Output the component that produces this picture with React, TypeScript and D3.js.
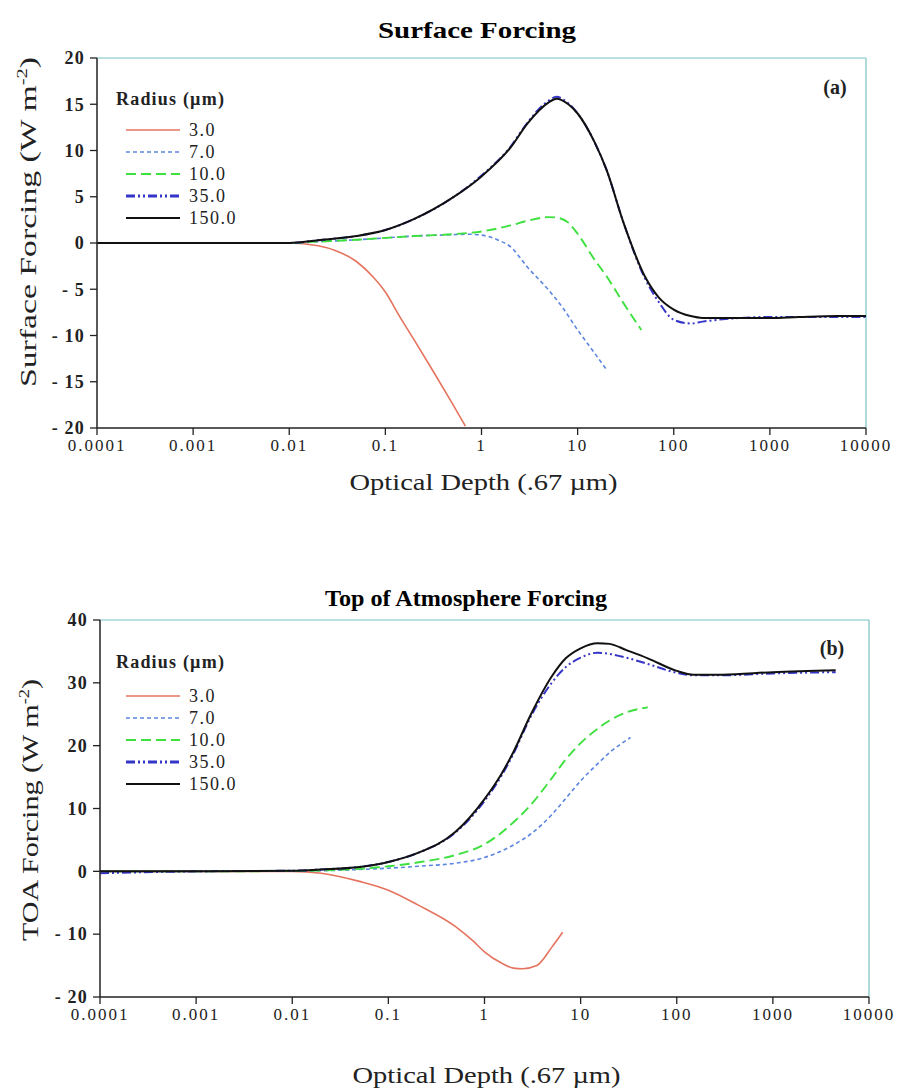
import React from 'react';
import * as d3 from 'd3';

// ---------- shared labels ----------
const xTickValues = [1e-4, 1e-3, 1e-2, 1e-1, 1, 10, 100, 1000, 10000];
const xTickLabels = ['0.0001', '0.001', '0.01', '0.1', '1', '10', '100', '1000', '10000'];
const radiusLabels = ['3.0', '7.0', '10.0', '35.0', '150.0'];
const surfaceTicks = [20, 15, 10, 5, 0, -5, -10, -15, -20];
const toaTicks = [40, 30, 20, 10, 0, -10, -20];

// ---------- (a) Surface forcing ----------
const sfcTau3 = [1e-4, 1e-3, 0.01, 0.02, 0.03, 0.05, 0.075, 0.1, 0.14, 0.2, 0.32, 0.5, 0.68];
const sfcVal3 = [0, 0, 0, -0.3, -0.8, -2.0, -3.7, -5.3, -7.9, -10.5, -14.0, -17.4, -19.8];
const sfcTau7 = [1e-4, 1e-3, 0.01, 0.02, 0.05, 0.1, 0.2, 0.5, 0.7, 1, 1.5, 2, 3, 5, 7, 10, 15, 20];
const sfcVal7 = [0, 0, 0, 0.15, 0.35, 0.55, 0.75, 0.9, 0.95, 0.85, 0.3, -0.4, -2.6, -5.1, -7.0, -9.4, -11.9, -13.7];
const sfcTau10 = [1e-4, 1e-3, 0.01, 0.02, 0.05, 0.1, 0.2, 0.5, 1, 2, 3, 5, 6, 8, 10, 15, 20, 30, 46];
const sfcVal10 = [0, 0, 0, 0.15, 0.35, 0.55, 0.75, 0.95, 1.25, 1.9, 2.4, 2.8, 2.75, 2.2, 1.0, -1.8, -3.6, -6.5, -9.4];
const sfcTauBig = [1e-4, 1e-3, 0.01, 0.02, 0.05, 0.1, 0.2, 0.5, 1, 2, 3, 5, 6, 8, 10, 15, 20, 30, 50, 70, 100, 150, 200, 500, 1000, 2000, 5000, 10000];
const sfcVal35 = [0, 0, 0, 0.3, 0.75, 1.4, 2.6, 4.9, 7.3, 10.4, 13.0, 15.4, 15.8, 15.1, 14.0, 10.9, 7.9, 2.2, -3.8, -6.4, -8.3, -8.7, -8.5, -8.1, -8.0, -8.0, -8.0, -8.0];
const sfcVal150 = [0, 0, 0, 0.3, 0.75, 1.4, 2.6, 4.9, 7.2, 10.3, 12.9, 15.2, 15.6, 15.0, 14.0, 10.9, 7.9, 2.2, -3.6, -5.9, -7.2, -7.9, -8.1, -8.1, -8.1, -8.0, -7.9, -7.9];

// ---------- (b) TOA forcing ----------
const toaTau3 = [1e-4, 1e-3, 0.01, 0.02, 0.05, 0.1, 0.2, 0.5, 0.75, 1, 1.5, 2, 2.5, 3.5, 5, 6.5];
const toaVal3 = [0, 0, 0, -0.3, -1.6, -3.0, -5.3, -8.8, -11.0, -12.8, -14.6, -15.4, -15.5, -15.0, -12.1, -9.7];
const toaTau7 = [1e-4, 1e-3, 0.01, 0.02, 0.05, 0.1, 0.2, 0.5, 1, 2, 3, 5, 7, 10, 15, 20, 33];
const toaVal7 = [0, 0, 0.05, 0.1, 0.3, 0.5, 0.8, 1.3, 2.2, 4.2, 5.9, 9.0, 11.6, 14.4, 17.1, 18.9, 21.3];
const toaTau10 = [1e-4, 1e-3, 0.01, 0.02, 0.05, 0.1, 0.2, 0.5, 1, 2, 3, 5, 7, 10, 15, 20, 30, 50];
const toaVal10 = [0, 0, 0.05, 0.15, 0.4, 0.8, 1.4, 2.6, 4.3, 7.8, 10.5, 14.8, 17.8, 20.4, 22.7, 24.0, 25.3, 26.1];
const toaTauBig = [1e-4, 1e-3, 0.01, 0.02, 0.05, 0.1, 0.2, 0.5, 1, 1.5, 2, 3, 5, 7, 10, 15, 20, 30, 50, 100, 150, 300, 1000, 4500];
const toaVal35 = [-0.3, 0, 0.1, 0.3, 0.7, 1.5, 2.9, 6.2, 11.2, 15.2, 18.7, 24.5, 30.0, 32.5, 34.0, 34.8, 34.6, 34.0, 33.0, 31.6, 31.2, 31.2, 31.5, 31.7];
const toaVal150 = [0, 0, 0.1, 0.3, 0.7, 1.5, 2.9, 6.3, 11.5, 15.5, 19.0, 24.8, 31.0, 33.9, 35.5, 36.3, 36.2, 35.2, 33.9, 31.9, 31.3, 31.3, 31.7, 32.0];

const styles = [
  { color: '#e5735f', dash: undefined, width: 1.6 },
  { color: '#5c86e0', dash: '4,3', width: 1.6 },
  { color: '#3ee03e', dash: '10,5', width: 1.9 },
  { color: '#3535c8', dash: '9,3,2,3,2,3', width: 2 },
  { color: '#111111', dash: undefined, width: 2 },
];

const zip = (t: number[], v: number[]) => t.map((d, i) => [d, v[i]] as [number, number]);

const sfcSeries = [
  zip(sfcTau3, sfcVal3),
  zip(sfcTau7, sfcVal7),
  zip(sfcTau10, sfcVal10),
  zip(sfcTauBig, sfcVal35),
  zip(sfcTauBig, sfcVal150),
];
const toaSeries = [
  zip(toaTau3, toaVal3),
  zip(toaTau7, toaVal7),
  zip(toaTau10, toaVal10),
  zip(toaTauBig, toaVal35),
  zip(toaTauBig, toaVal150),
];

const FONT = '"Liberation Serif", "Times New Roman", serif';

type PanelProps = {
  box: { left: number; right: number; top: number; bottom: number };
  yTicks: number[];
  series: [number, number][][];
  title: string;
  titleX: number;
  titleY: number;
  titleLen: number;
  yTitle: string;
  yTitleX: number;
  yTitleY: number;
  yTitleLen: number;
  xTitleY: number;
  letter: string;
  letterX: number;
  letterY: number;
  legendHeaderY: number;
  legendFirstY: number;
};

function Panel(p: PanelProps) {
  const { box } = p;
  const x = d3.scaleLog().domain([1e-4, 1e4]).range([box.left, box.right]);
  const y = d3
    .scaleLinear()
    .domain([d3.min(p.yTicks) as number, d3.max(p.yTicks) as number])
    .range([box.bottom, box.top]);
  const line = d3
    .line<[number, number]>()
    .x((d) => x(d[0]))
    .y((d) => y(d[1]))
    .curve(d3.curveMonotoneX);
  return (
    <g>
      <text
        x={p.titleX}
        y={p.titleY}
        textAnchor="middle"
        fontFamily={FONT}
        fontWeight="bold"
        fontSize={24}
        textLength={p.titleLen}
        lengthAdjust="spacingAndGlyphs"
      >
        {p.title}
      </text>
      {/* frame top/right */}
      <line x1={box.left} x2={box.right} y1={box.top} y2={box.top} stroke="#78c2c4" strokeWidth={1.2} />
      <line x1={box.right} x2={box.right} y1={box.top} y2={box.bottom} stroke="#78c2c4" strokeWidth={1.2} />
      {/* series */}
      {p.series.map((s, i) => (
        <path
          key={i}
          d={line(s) || ''}
          fill="none"
          stroke={styles[i].color}
          strokeWidth={styles[i].width}
          strokeDasharray={styles[i].dash}
        />
      ))}
      {/* axes */}
      <line x1={box.left} x2={box.left} y1={box.top} y2={box.bottom} stroke="#222" strokeWidth={1.5} />
      <line x1={box.left} x2={box.right} y1={box.bottom} y2={box.bottom} stroke="#222" strokeWidth={1.5} />
      {p.yTicks.map((t) => (
        <g key={'y' + t}>
          <line x1={box.left - 7} x2={box.left} y1={y(t)} y2={y(t)} stroke="#222" strokeWidth={1.3} />
          <text
            x={box.left - 12}
            y={y(t)}
            dy="0.35em"
            textAnchor="end"
            fontFamily={FONT}
            fontWeight="bold"
            fontSize={18}
            letterSpacing={1.2}
            fill="#222"
          >
            {t < 0 ? '- ' + Math.abs(t) : String(t)}
          </text>
        </g>
      ))}
      {xTickValues.map((t, i) => (
        <g key={'x' + i}>
          <line x1={x(t)} x2={x(t)} y1={box.bottom} y2={box.bottom + 7} stroke="#222" strokeWidth={1.3} />
          <text
            x={x(t)}
            y={box.bottom + 23}
            textAnchor="middle"
            fontFamily={FONT}
            fontSize={17}
            letterSpacing={2}
            fill="#222"
          >
            {xTickLabels[i]}
          </text>
        </g>
      ))}
      {/* x title */}
      <text
        x={(box.left + box.right) / 2 + 2}
        y={p.xTitleY}
        textAnchor="middle"
        fontFamily={FONT}
        fontSize={23}
        textLength={268}
        lengthAdjust="spacingAndGlyphs"
        fill="#222"
      >
        Optical Depth (.67 µm)
      </text>
      {/* y title */}
      <text
        transform={`translate(${p.yTitleX},${p.yTitleY}) rotate(-90)`}
        textAnchor="middle"
        fontFamily={FONT}
        fontSize={23}
        textLength={p.yTitleLen}
        lengthAdjust="spacingAndGlyphs"
        fill="#222"
      >
        {p.yTitle} (W m<tspan dy={-9} fontSize={14}>-2</tspan>
        <tspan dy={9}>)</tspan>
      </text>
      {/* panel letter */}
      <text x={p.letterX} y={p.letterY} fontFamily={FONT} fontWeight="bold" fontSize={20} textAnchor="middle" fill="#222">
        {p.letter}
      </text>
      {/* legend */}
      <text x={116} y={p.legendHeaderY} fontFamily={FONT} fontWeight="bold" fontSize={18} letterSpacing={1.2} fill="#222">
        Radius (µm)
      </text>
      {radiusLabels.map((r, i) => {
        const ly = p.legendFirstY + i * 22;
        return (
          <g key={r}>
            <line
              x1={126}
              x2={180}
              y1={ly}
              y2={ly}
              stroke={styles[i].color}
              strokeWidth={styles[i].width + (i === 3 ? 1 : 0)}
              strokeDasharray={styles[i].dash}
            />
            <text x={189} y={ly} dy="0.35em" fontFamily={FONT} fontSize={18} letterSpacing={1.5} fill="#222">
              {r}
            </text>
          </g>
        );
      })}
    </g>
  );
}

export default function App() {
  return (
    <svg
      width={904}
      height={1091}
      style={{ position: 'absolute', left: 0, top: 0, background: '#fff' }}
    >
      <rect width={904} height={1091} fill="#fff" />
      <Panel
        box={{ left: 97, right: 866, top: 58, bottom: 428 }}
        yTicks={surfaceTicks}
        series={sfcSeries}
        title="Surface Forcing"
        titleX={477}
        titleY={38}
        titleLen={198}
        yTitle="Surface Forcing"
        yTitleX={36}
        yTitleY={222}
        yTitleLen={330}
        xTitleY={490}
        letter="(a)"
        letterX={835}
        letterY={94}
        legendHeaderY={105}
        legendFirstY={130}
      />
      <Panel
        box={{ left: 100, right: 869, top: 620, bottom: 997 }}
        yTicks={toaTicks}
        series={toaSeries}
        title="Top of Atmosphere Forcing"
        titleX={466}
        titleY={606}
        titleLen={282}
        yTitle="TOA Forcing"
        yTitleX={38}
        yTitleY={810}
        yTitleLen={262}
        xTitleY={1083}
        letter="(b)"
        letterX={832}
        letterY={655}
        legendHeaderY={668}
        legendFirstY={696}
      />
    </svg>
  );
}
